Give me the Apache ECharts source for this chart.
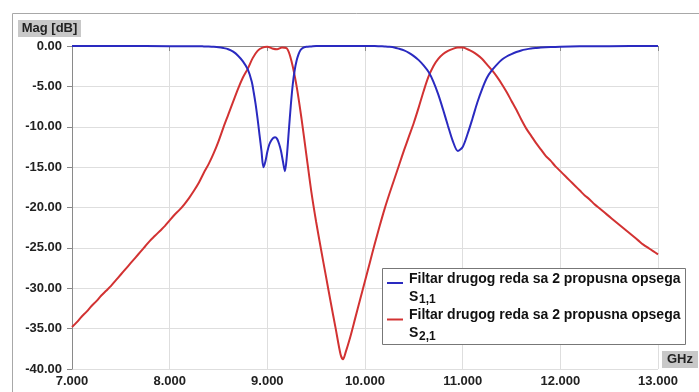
<!DOCTYPE html>
<html>
<head>
<meta charset="utf-8">
<script src="https://cdn.jsdelivr.net/npm/echarts@6/dist/echarts.min.js"></script>
<style>html,body{margin:0;padding:0;background:#fff;}#c{width:699px;height:392px;}</style>
</head>
<body>
<div id="c"></div>
<script>
// S1,1 (blue): frequency [GHz] and magnitude [dB]
const s11Freq = [7.0, 7.5, 8.0, 8.3, 8.35, 8.4, 8.45, 8.5, 8.55, 8.6, 8.65, 8.7, 8.75, 8.8, 8.84, 8.86, 8.88, 8.9, 8.92, 8.94, 8.96, 8.98, 9.0, 9.02, 9.04, 9.06, 9.08, 9.1, 9.12, 9.14, 9.16, 9.18, 9.2, 9.22, 9.24, 9.26, 9.28, 9.3, 9.32, 9.34, 9.36, 9.4, 9.45, 9.5, 10.1, 10.15, 10.2, 10.25, 10.3, 10.35, 10.4, 10.45, 10.5, 10.55, 10.6, 10.65, 10.7, 10.75, 10.8, 10.85, 10.9, 10.95, 11.0, 11.05, 11.1, 11.15, 11.2, 11.25, 11.3, 11.35, 11.4, 11.45, 11.5, 11.55, 11.6, 11.65, 11.7, 11.75, 11.8, 11.9, 12.0, 12.2, 12.5, 13.0];
const s11Mag  = [0, 0, -0.02, -0.03, -0.05, -0.07, -0.1, -0.15, -0.25, -0.4, -0.7, -1.2, -1.9, -2.9, -4.4, -5.7, -7.2, -9.0, -11.0, -13.0, -15.0, -14.3, -13.1, -12.2, -11.7, -11.4, -11.3, -11.5, -12.1, -13.0, -14.3, -15.5, -13.6, -10.5, -7.4, -4.8, -3.0, -1.8, -1.0, -0.5, -0.25, -0.1, -0.05, 0, 0, -0.03, -0.06, -0.1, -0.18, -0.35, -0.55, -0.85, -1.25, -1.75, -2.4, -3.2, -4.4, -6.0, -7.9, -9.9, -11.8, -13.0, -12.5, -10.9, -9.0, -7.0, -5.3, -3.9, -3.0, -2.3, -1.7, -1.3, -1.0, -0.75, -0.55, -0.42, -0.32, -0.25, -0.19, -0.12, -0.08, -0.04, -0.02, 0];
// S2,1 (red)
const s21Freq = [7.0, 7.05, 7.1, 7.15, 7.2, 7.25, 7.3, 7.35, 7.4, 7.45, 7.5, 7.55, 7.6, 7.65, 7.7, 7.75, 7.8, 7.85, 7.9, 7.95, 8.0, 8.05, 8.1, 8.15, 8.2, 8.25, 8.3, 8.35, 8.4, 8.45, 8.5, 8.55, 8.6, 8.65, 8.7, 8.75, 8.8, 8.85, 8.9, 8.95, 9.0, 9.05, 9.1, 9.15, 9.2, 9.25, 9.3, 9.35, 9.4, 9.45, 9.5, 9.55, 9.6, 9.65, 9.7, 9.75, 9.775, 9.8, 9.85, 9.9, 9.95, 10.0, 10.05, 10.1, 10.15, 10.2, 10.25, 10.3, 10.35, 10.4, 10.45, 10.5, 10.55, 10.6, 10.65, 10.7, 10.75, 10.8, 10.85, 10.9, 10.95, 11.0, 11.05, 11.1, 11.15, 11.2, 11.25, 11.3, 11.35, 11.4, 11.45, 11.5, 11.55, 11.6, 11.65, 11.7, 11.75, 11.8, 11.85, 11.9, 11.95, 12.0, 12.05, 12.1, 12.15, 12.2, 12.25, 12.3, 12.35, 12.4, 12.45, 12.5, 12.55, 12.6, 12.65, 12.7, 12.75, 12.8, 12.85, 12.9, 12.95, 13.0];
const s21Mag  = [-34.8, -34.2, -33.5, -32.9, -32.2, -31.6, -30.9, -30.3, -29.7, -29.0, -28.3, -27.6, -26.9, -26.2, -25.5, -24.8, -24.1, -23.5, -22.9, -22.3, -21.6, -20.9, -20.3, -19.6, -18.8, -17.9, -16.9, -15.7, -14.6, -13.3, -11.8, -10.1, -8.5, -6.9, -5.3, -3.9, -2.8, -1.5, -0.6, -0.2, -0.1, -0.3, -0.4, -0.2, -0.3, -2.0, -5.0, -9.0, -13.5, -18.0, -21.8, -25.2, -28.5, -31.8, -35.0, -38.2, -38.8, -38.0, -36.0, -33.7, -31.4, -29.1, -26.8, -24.5, -22.3, -20.2, -18.3, -16.5, -14.7, -12.9, -11.2, -9.5, -7.6, -5.6, -3.8, -2.5, -1.6, -1.0, -0.6, -0.35, -0.2, -0.2, -0.4, -0.7, -1.1, -1.6, -2.3, -3.0, -3.8, -4.7, -5.7, -6.8, -7.9, -9.1, -10.2, -11.1, -12.0, -12.8, -13.6, -14.2, -14.9, -15.5, -16.1, -16.7, -17.3, -17.9, -18.5, -19.0, -19.6, -20.1, -20.6, -21.1, -21.6, -22.1, -22.6, -23.1, -23.6, -24.1, -24.6, -25.0, -25.4, -25.8];

const seriesNames = ['Filtar drugog reda sa 2 propusna opsega', 'Filtar drugog reda sa 2 propusna opsega'];
const seriesSubs = ['1,1', '2,1'];
const colors = ['#2a2ac0', '#d23232'];
const yLabel = 'Mag [dB]';
const xLabel = 'GHz';

const chart = echarts.init(document.getElementById('c'), null, {renderer: 'canvas'});
const zip = (a, b) => a.map((v, i) => [v, b[i]]);
const font = 'Liberation Sans, Arial, sans-serif';

const legendItems = [];
[0, 1].forEach(i => {
  const y0 = i === 0 ? 279 : 315.5;
  legendItems.push({type: 'line', z: 20, shape: {x1: 387, y1: y0 + 4, x2: 403, y2: y0 + 4}, style: {stroke: colors[i], lineWidth: 2}});
  legendItems.push({type: 'text', z: 20, x: 409, y: y0, style: {text: seriesNames[i], font: 'bold 14px ' + font, fill: '#111', verticalAlign: 'middle'}});
  legendItems.push({type: 'text', z: 20, x: 409, y: y0 + 18, style: {text: 'S', font: 'bold 14px ' + font, fill: '#111', verticalAlign: 'middle'}});
  legendItems.push({type: 'text', z: 20, x: 419, y: y0 + 21, style: {text: seriesSubs[i], font: 'bold 12px ' + font, fill: '#111', verticalAlign: 'middle'}});
});

const sm = {showSymbol: false, smooth: 0.3};

chart.setOption({
  animation: false,
  grid: {left: 72, right: 41, top: 46, bottom: 23},
  xAxis: {
    type: 'value', min: 7, max: 13, interval: 1,
    axisLine: {show: true, lineStyle: {color: '#8a8a8a', width: 1}},
    axisTick: {show: true, length: 5, lineStyle: {color: '#8a8a8a'}},
    axisLabel: {margin: 6, color: '#222', fontWeight: 'bold', fontSize: 13, fontFamily: font, formatter: v => v.toFixed(3)},
    splitLine: {show: true, lineStyle: {color: '#dedede', width: 1}}
  },
  yAxis: {
    type: 'value', min: -40, max: 0, interval: 5,
    axisLine: {show: true, onZero: false, lineStyle: {color: '#8a8a8a', width: 1}},
    axisTick: {show: true, length: 5, lineStyle: {color: '#8a8a8a'}},
    axisLabel: {margin: 10, color: '#222', fontWeight: 'bold', fontSize: 13, fontFamily: font, formatter: v => v.toFixed(2)},
    splitLine: {show: true, lineStyle: {color: '#dedede', width: 1}}
  },
  series: [
    Object.assign({name: 'S11', type: 'line', data: zip(s11Freq, s11Mag), lineStyle: {color: colors[0], width: 2}, z: 3}, sm),
    Object.assign({name: 'S21', type: 'line', data: zip(s21Freq, s21Mag), lineStyle: {color: colors[1], width: 2}, z: 2}, sm)
  ],
  graphic: [
    {type: 'rect', shape: {x: 12.5, y: 13.5, width: 720, height: 420}, style: {fill: null, stroke: '#a8a8a8', lineWidth: 1}, silent: true},
    {type: 'rect', shape: {x: 18, y: 20, width: 63, height: 17}, style: {fill: '#c8c8c8'}},
    {type: 'text', x: 49.5, y: 28.5, style: {text: yLabel, font: 'bold 13px ' + font, fill: '#222', align: 'center', verticalAlign: 'middle'}},
    {type: 'rect', shape: {x: 662, y: 351, width: 36, height: 17}, style: {fill: '#c8c8c8'}},
    {type: 'text', x: 680, y: 359.5, style: {text: xLabel, font: 'bold 13px ' + font, fill: '#222', align: 'center', verticalAlign: 'middle'}},
    {type: 'rect', z: 10, shape: {x: 382.5, y: 268.5, width: 303, height: 76}, style: {fill: '#fff', stroke: '#777', lineWidth: 1}}
  ].concat(legendItems)
});
</script>
</body>
</html>
